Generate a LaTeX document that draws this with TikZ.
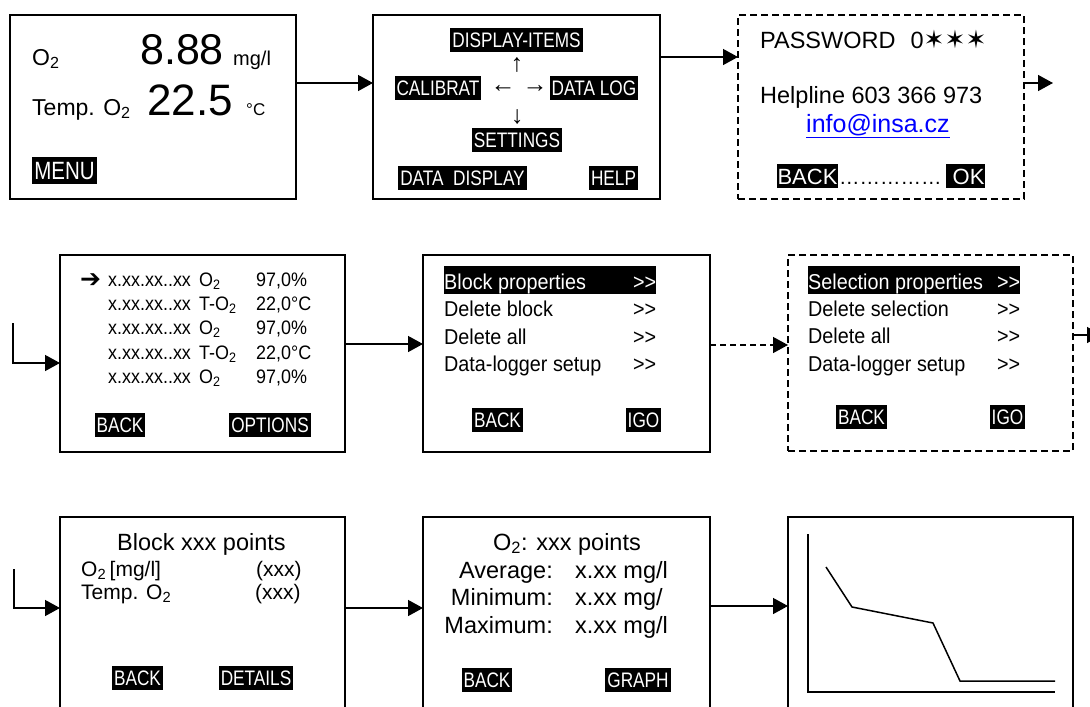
\documentclass[tikz,border=0pt]{standalone}
\usepackage{fontspec}
\setmainfont{Liberation Sans}
\newfontfamily\nar[FakeStretch=0.82]{Liberation Sans}
\newfontfamily\semi[FakeStretch=0.92]{Liberation Sans}
\newfontfamily\djv{DejaVu Sans}
\usetikzlibrary{arrows.meta}
\newcommand\sz[1]{\fontsize{#1pt}{#1pt}\selectfont}
\definecolor{linkblue}{RGB}{0,0,255}
\begin{document}
\begin{tikzpicture}[x=1pt,y=-1pt,
  panel/.style={draw, line width=1.6pt, inner sep=0pt, outer sep=0pt},
  dpanel/.style={panel, dash pattern=on 7pt off 4pt},
  conn/.style={line width=1.4pt, -{Triangle[length=15pt,width=16pt]}},
  txt/.style={anchor=base west, inner sep=0pt},
  rtxt/.style={anchor=base east, inner sep=0pt},
  key/.style={fill=black, text=white, inner xsep=2pt, inner ysep=4.5pt, text height=15pt, text depth=0pt, font=\nar\sz{21}},
  bar/.style={anchor=base west, fill=black, text=white, inner sep=0pt, text height=23pt, text depth=5pt},
  row/.style={anchor=base west, inner sep=0pt, text height=23pt, text depth=5pt},
  glyph/.style={inner sep=0pt, font=\sz{25}, text height=8pt, text depth=0pt},
  graphline/.style={line width=1.5pt}
]
\useasboundingbox (0,0) rectangle (1090,707);
\clip (0,0) rectangle (1090,707);
\fill[white] (0,0) rectangle (1090,707);

% ---------- panels ----------
\node[panel, minimum width=286pt, minimum height=184pt] (p1) at (153,107) {};
\node[panel, minimum width=287pt, minimum height=184pt] (p2) at (516.5,107) {};
\node[dpanel, minimum width=286pt, minimum height=184pt] (p3) at (881,107) {};
\node[panel, minimum width=285pt, minimum height=197pt] (p4) at (202.5,353.5) {};
\node[panel, minimum width=287pt, minimum height=197pt] (p5) at (566.5,353.5) {};
\node[dpanel, minimum width=285pt, minimum height=196pt] (p6) at (930.5,353) {};
\node[panel, minimum width=285pt, minimum height=263pt] (p7) at (202.5,648.5) {};
\node[panel, minimum width=287pt, minimum height=263pt] (p8) at (566.5,648.5) {};
\node[panel, minimum width=285pt, minimum height=263pt] (p9) at (930.5,648.5) {};

% ---------- connectors ----------
\coordinate (c3) at (1053,83);
\coordinate (c4) at (13,323);
\coordinate (c7) at (1102,335);
\coordinate (c8) at (14,569);
\draw[conn] ([yshift=24pt]p1.east) -- ([yshift=24pt]p2.west);
\draw[conn] ([yshift=50pt]p2.east) -- ([yshift=50pt]p3.west);
\draw[conn] ([yshift=24pt]p3.east) -- (c3);
\draw[conn] (c4) |- ([yshift=-9.5pt]p4.west);
\draw[conn] ([yshift=9.5pt]p4.east) -- ([yshift=9.5pt]p5.west);
\draw[conn, dash pattern=on 6pt off 4pt] ([yshift=8.5pt]p5.east) -- ([yshift=8pt]p6.west);
\draw[conn] ([yshift=18pt]p6.east) -- (c7);
\draw[conn] (c8) |- ([yshift=40.5pt]p7.west);
\draw[conn] ([yshift=40.5pt]p7.east) -- ([yshift=40.5pt]p8.west);
\draw[conn] ([yshift=42.5pt]p8.east) -- ([yshift=42.5pt]p9.west);

% ---------- panel 1 ----------
\node[txt, font=\sz{23}] (o2a) at (32,65) {O\textsubscript{2}};
\node[txt, font=\sz{43}] (v1) at (140,64) {8.88};
\node[txt, font=\sz{20}] (u1) at (233,65) {mg/l};
\node[txt, font=\sz{23}] (tmp1) at (32,115) {Temp. O\textsubscript{2}};
\node[txt, font=\sz{44}] (v2) at (147,115) {22.5};
\node[txt, font=\sz{17}] (u2) at (246,115) {°C};
\node[key, font=\nar\sz{25}, text height=18pt, inner ysep=4.5pt] (menu) at (64.5,170.5) {MENU};

% ---------- panel 2 ----------
\node[key] (di) at (516.5,39.5) {DISPLAY-ITEMS};
\node[key] (cal) at (438,87.5) {CALIBRAT};
\node[key] (dl) at (594,87.5) {DATA LOG};
\node[key] (set) at (517,139.5) {SETTINGS};
\node[key] (dd) at (462.5,178) {DATA\ \ DISPLAY};
\node[key] (help) at (613.5,178) {HELP};
\node[glyph, rotate=90] (gu) at (517,65) {→};
\node[glyph] (gl) at (503,88) {←};
\node[glyph] (gr) at (535,88) {→};
\node[glyph, rotate=-90] (gd) at (517,117) {→};

% ---------- panel 3 ----------
\node[txt, font=\sz{23.5}] (pw) at (760,48) {PASSWORD\hspace{15pt}0{\djv\sz{25}✶✶✶}};
\node[txt, font=\sz{23.5}] (hl) at (760,103) {Helpline 603 366 973};
\node[txt, font=\sz{25}, text=linkblue] (mail) at (806,132) {\underline{info@insa.cz}};
\node[key, font=\sz{22}, text height=16pt, inner ysep=4pt, inner xsep=1pt] (back3) at (807.5,176) {BACK};
\node[txt, font=\sz{20.5}] (dots) at (839,184) {……………};
\node[key, font=\sz{22}, text height=16pt, inner ysep=4pt, inner xsep=1pt] (ok) at (965.5,176) {\ OK};

% ---------- panel 4 ----------
\node[txt, font=\djv\sz{25}] (ptr) at (80,287) {➔};
\foreach \b/\k/\v [count=\i] in {286/O\textsubscript{2}/97{,}0\%,310/T-O\textsubscript{2}/22{,}0°C,334/O\textsubscript{2}/97{,}0\%,359/T-O\textsubscript{2}/22{,}0°C,383/O\textsubscript{2}/97{,}0\%}{
  \node[txt, font=\semi\sz{19.5}] (d\i) at (108,\b) {x.xx.xx..xx};
  \node[txt, font=\semi\sz{19.5}] (k\i) at (199,\b) {\k};
  \node[txt, font=\semi\sz{19.5}] (v\i) at (256,\b) {\v};
}
\node[key] (back4) at (120,425) {BACK};
\node[key] (opt) at (270,425) {OPTIONS};

% ---------- panel 5 ----------
\node[bar, font=\semi\sz{21.5}] (bp) at (444,289) {\makebox[212pt][l]{Block properties\hfill>>}};
\node[row, font=\semi\sz{21.5}] (db) at (444,316) {\makebox[212pt][l]{Delete block\hfill>>}};
\node[row, font=\semi\sz{21.5}] (da5) at (444,344) {\makebox[212pt][l]{Delete all\hfill>>}};
\node[row, font=\semi\sz{21.5}] (ds5) at (444,371) {\makebox[212pt][l]{Data-logger setup\hfill>>}};
\node[key] (back5) at (497.5,419.5) {BACK};
\node[key] (igo5) at (643.5,419.5) {IGO};

% ---------- panel 6 ----------
\node[bar, font=\semi\sz{21.5}] (sp) at (808,289) {\makebox[212pt][l]{Selection properties\hfill>>}};
\node[row, font=\semi\sz{21.5}] (dsel) at (808,316) {\makebox[212pt][l]{Delete selection\hfill>>}};
\node[row, font=\semi\sz{21.5}] (da6) at (808,343) {\makebox[212pt][l]{Delete all\hfill>>}};
\node[row, font=\semi\sz{21.5}] (ds6) at (808,371) {\makebox[212pt][l]{Data-logger setup\hfill>>}};
\node[key] (back6) at (861.5,416.5) {BACK};
\node[key] (igo6) at (1007.5,416.5) {IGO};

% ---------- panel 7 ----------
\node[txt, font=\sz{23.5}] (bxp) at (117,550) {Block xxx points};
\node[txt, font=\sz{21}] (o2u) at (81,576) {O\textsubscript{2}\,[mg/l]};
\node[txt, font=\sz{21}] (tmp7) at (81,599) {Temp. O\textsubscript{2}};
\node[txt, font=\sz{21}] (x1) at (256,576) {(xxx)};
\node[txt, font=\sz{21}] (x2) at (255,599) {(xxx)};
\node[key] (back7) at (137.5,677.5) {BACK};
\node[key] (det) at (256,677.5) {DETAILS};

% ---------- panel 8 ----------
\node[txt, font=\sz{23.5}] (o2p) at (493,550) {O\textsubscript{2}: xxx points};
\node[rtxt, font=\sz{23.5}] (avg) at (553,578) {Average:};
\node[rtxt, font=\sz{23.5}] (min) at (553,605) {Minimum:};
\node[rtxt, font=\sz{23.5}] (max) at (553,633) {Maximum:};
\node[txt, font=\sz{23.5}] (avgv) at (575,578) {x.xx mg/l};
\node[txt, font=\sz{23.5}] (minv) at (575,605) {x.xx mg/};
\node[txt, font=\sz{23.5}] (maxv) at (575,633) {x.xx mg/l};
\node[key] (back8) at (487,680) {BACK};
\node[key] (graph) at (638,680) {GRAPH};

% ---------- panel 9 (graph) ----------
\draw[graphline] (808,534) -- (808,692) -- (1055,692);
\draw[graphline] (826,567) -- (852,607) -- (933,623) -- (960,681) -- (1055,681);
\end{tikzpicture}
\end{document}
